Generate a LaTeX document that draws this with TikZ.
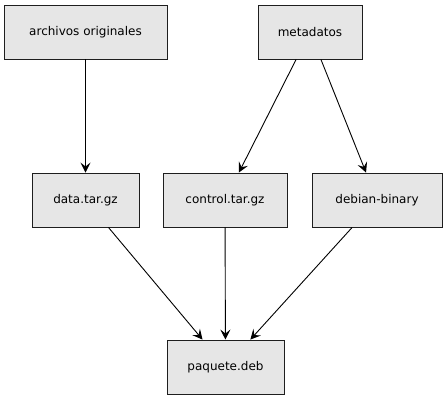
\documentclass[tikz,border=0pt]{standalone}
\usepackage{fontspec}
\setmainfont{DejaVu Sans}
\usetikzlibrary{arrows.meta}
\definecolor{boxgray}{RGB}{230,230,230}
\definecolor{linegray}{RGB}{30,30,30}

\begin{document}
\begin{tikzpicture}[x=1pt,y=-1pt,
		box/.style={draw=linegray, line width=0.9pt, rectangle, fill=boxgray, minimum height=54pt, inner sep=0pt, font=\fontsize{12}{14}\selectfont},
		link/.style={line width=0.9pt, -{Stealth[length=10pt,width=10pt,inset=4pt]}}]
				\useasboundingbox (0,0) rectangle (448,400);
				
				% Sources
				\node[box, minimum width=163pt] (originales) at (85.5,32) {archivos originales};
				\node[box, minimum width=104pt] (metadatos) at (310,32) {metadatos};
				
				% Archives
				\node[box, minimum width=107pt] (data) at (85.5,200) {data.tar.gz};
				\node[box, minimum width=124pt] (control) at (225,200) {control.tar.gz};
				\node[box, minimum width=130pt] (binary) at (377,200) {debian-binary};
				
				% Package
				\node[box, minimum width=117pt] (paquete) at (225.5,367) {paquete.deb};
				
				% Arrows
				\draw[link] (originales) -- (data);
				\draw[link] (metadatos) -- (control);
				\draw[link] (metadatos) -- (binary);
				\draw[link] (data) -- (paquete);
				\draw[link] (control) -- (paquete);
				\draw[link] (binary) -- (paquete);
			\end{tikzpicture}
\end{document}
